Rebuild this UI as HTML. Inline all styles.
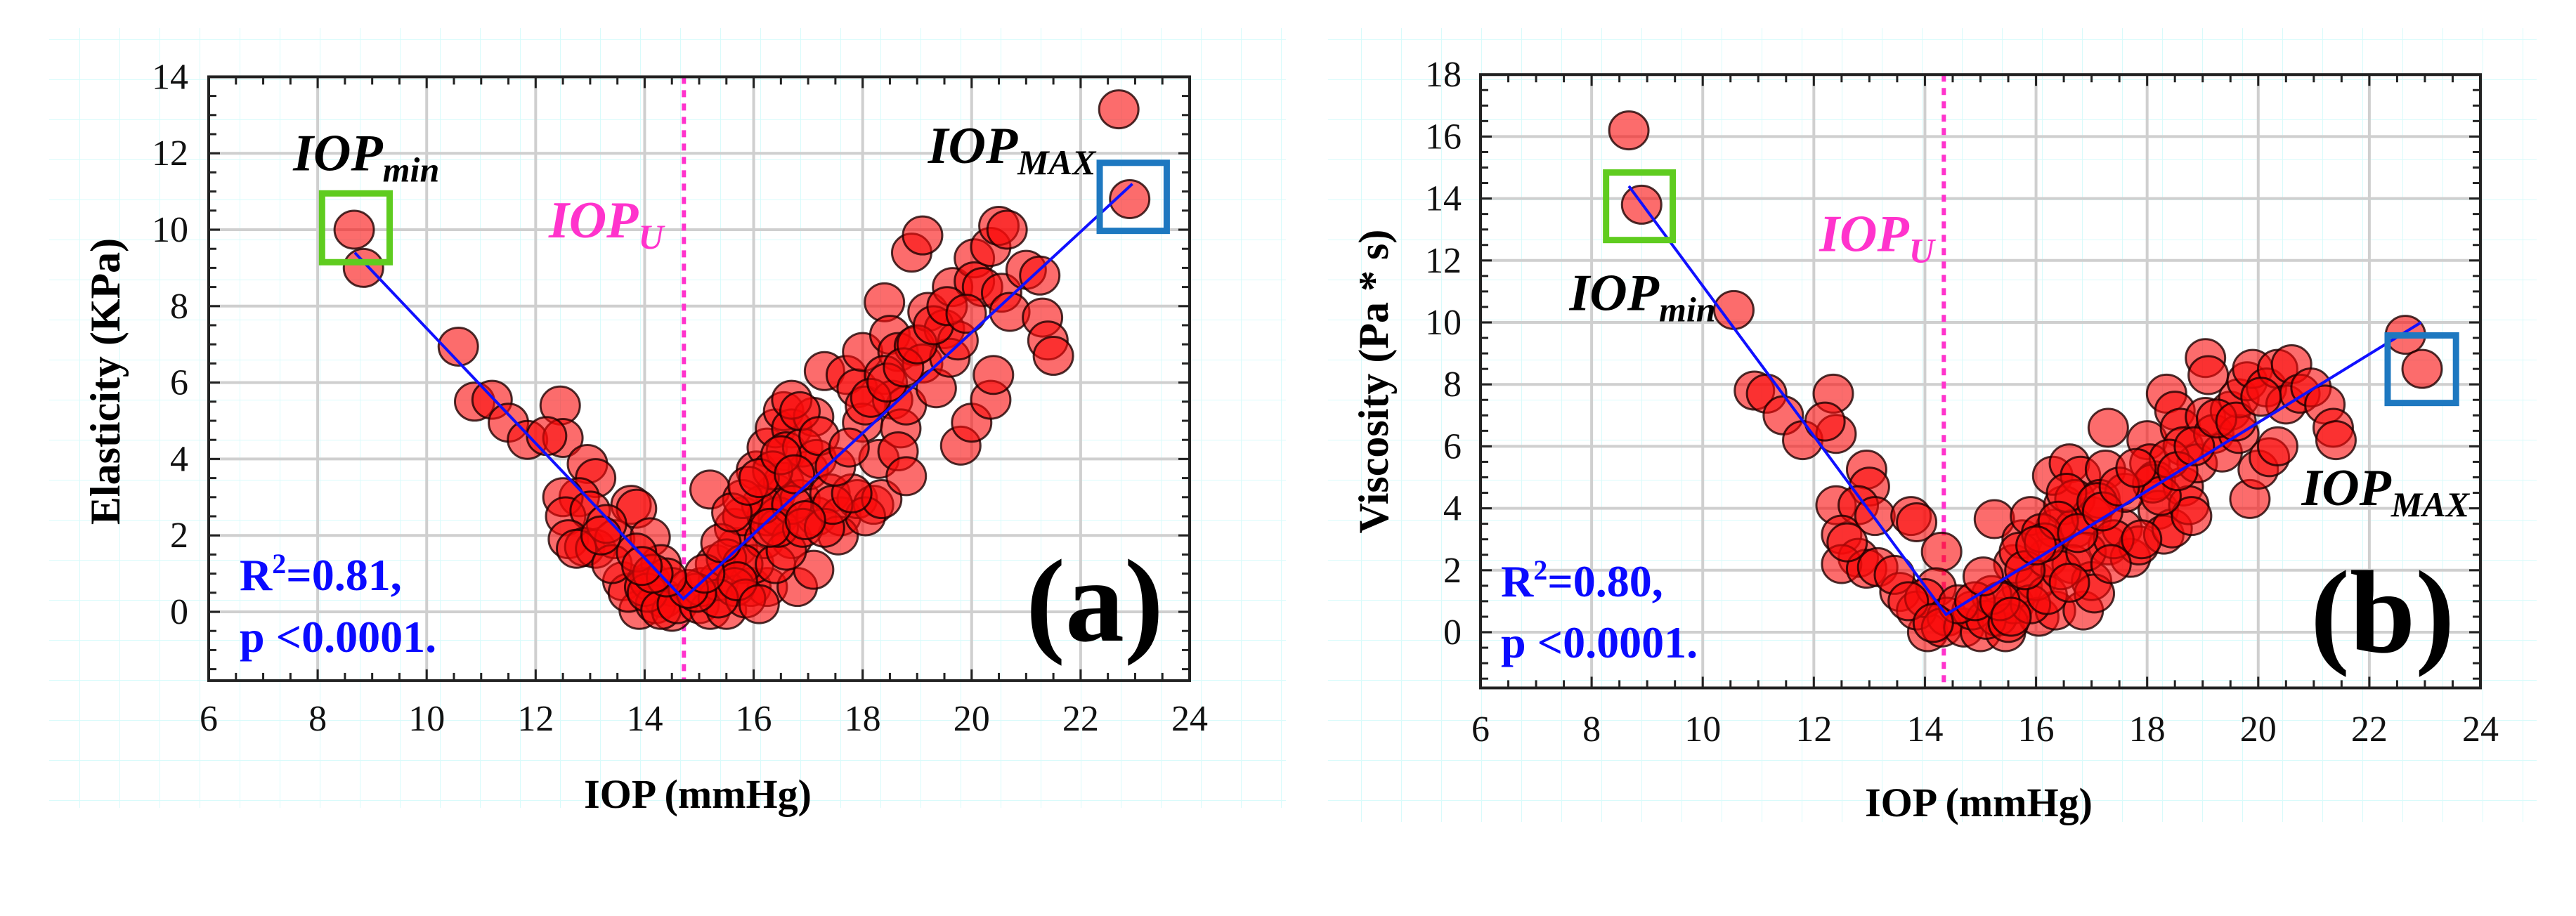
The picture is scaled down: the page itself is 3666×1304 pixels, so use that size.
<!DOCTYPE html>
<html><head><meta charset="utf-8">
<style>
html,body{margin:0;padding:0;background:#fff;}
svg{display:block;}
text{font-family:"Liberation Serif",serif;}
</style></head>
<body>
<svg id="fig" width="3666" height="1304" viewBox="0 0 3666 1304" xmlns="http://www.w3.org/2000/svg">
<defs>
<pattern id="bgGrid" width="57" height="57" patternUnits="userSpaceOnUse">
<path d="M57 0 V57 M0 57 H57" fill="none" stroke="#d8fbfb" stroke-width="2"/>
</pattern>
</defs>
<rect x="70" y="40" width="1760" height="1110" fill="url(#bgGrid)"/>
<rect x="1890" y="40" width="1720" height="1130" fill="url(#bgGrid)"/>
<g id="chartA"></g>
<g id="chartB"></g>
</svg>
<script>
const xTicks = [6,8,10,12,14,16,18,20,22,24];
const yTicksA = [0,2,4,6,8,10,12,14];
const yTicksB = [0,2,4,6,8,10,12,14,16,18];

const elastX = [
8.67,8.84,10.58,10.88,11.2,11.5,11.85,12.45,12.5,12.2,
12.95,13.1,12.8,12.5,12.55,13.0,12.6,12.9,13.1,12.75,
13.75,13.85,13.45,14.1,13.6,13.9,13.7,14.1,14.3,14.35,
14.5,14.2,14.0,14.5,13.3,13.4,13.85,14.05,14.3,14.6,
15.0,15.2,15.5,15.05,15.35,15.3,15.2,15.7,15.65,15.8,
15.95,16.25,16.0,16.2,16.25,16.4,16.05,16.25,16.4,16.55,
16.7,16.6,16.55,16.45,16.7,16.8,16.85,17.0,17.1,16.9,
17.15,17.15,17.1,17.3,17.4,17.6,17.55,17.7,17.9,18.0,
18.0,18.05,17.9,18.2,18.05,18.35,18.3,18.4,18.5,18.65,
18.4,18.55,18.7,18.65,18.8,18.8,18.9,19.1,18.95,19.1,
19.2,19.35,19.5,19.6,19.75,19.65,19.8,20.0,20.05,20.05,
20.2,20.35,20.5,20.65,20.35,20.4,20.55,20.7,21.0,21.25,
21.3,21.4,21.5,22.7,22.9,15.5,15.8,15.65,15.85,15.35,
14.95,15.7,16.1,16.4,16.6,16.45,16.15,15.8,16.35,16.7,
16.9,17.3,17.45,16.7,16.85,17.8,14.8,15.1,15.4,15.6,
15.9,16.1,16.3,16.5,16.75,16.95,17.2,17.5,17.75,18.15,
18.45,18.75,19.0,19.3,19.55,19.9,14.4,14.15,13.95,13.2];
const elastY = [
10.0,9.0,6.94,5.5,5.55,4.95,4.5,5.4,4.55,4.6,
3.87,3.5,3.0,3.0,2.5,2.65,1.9,1.7,1.65,1.65,
2.8,2.7,1.9,1.95,0.8,0.05,0.5,0.8,1.25,0.35,
0.65,0.2,0.65,0.0,2.3,1.25,1.55,0.5,0.05,0.2,
0.2,0.05,0.05,0.65,0.8,1.25,3.2,1.7,2.2,2.5,
0.65,0.65,1.25,1.9,2.5,3.1,3.7,4.3,4.8,5.25,
4.8,4.2,3.4,2.5,1.9,0.65,2.95,3.7,5.1,4.3,
4.0,2.5,1.1,6.3,3.1,2.5,2.0,6.2,5.85,6.8,
4.95,5.4,2.95,2.8,2.5,2.95,4.0,8.1,7.25,6.8,
6.2,5.55,4.8,4.2,3.55,5.4,9.4,9.85,6.95,6.5,
7.85,5.85,7.4,6.65,7.1,8.5,4.35,4.95,9.25,8.65,
8.5,9.55,10.1,10.0,5.55,6.2,8.35,7.85,8.95,8.8,
7.7,7.1,6.7,13.15,10.8,1.4,1.25,0.65,0.35,0.35,
0.5,0.8,0.2,1.25,1.6,2.2,2.8,2.95,3.7,2.8,
2.2,2.2,2.8,5.55,5.25,3.1,0.6,1.0,1.8,2.6,
3.3,3.5,2.2,4.1,3.6,2.4,4.6,3.8,4.3,5.6,
6.0,6.4,7.0,7.5,8.0,7.8,0.9,1.0,1.2,2.0];

const viscX = [
8.67,8.9,10.56,10.93,11.15,11.45,11.8,12.35,12.4,12.2,
12.95,13.0,12.4,12.8,12.5,13.1,12.8,12.5,12.95,13.15,
13.75,13.85,13.55,13.45,14.05,13.85,14.3,14.2,14.0,14.4,
14.3,14.7,15.0,15.45,14.85,15.3,15.25,15.6,15.75,15.6,
15.75,15.9,16.05,16.35,16.0,16.2,16.35,16.5,16.3,16.6,
16.8,16.7,16.7,16.65,16.85,17.0,17.0,17.25,17.15,17.05,
17.3,17.3,17.55,17.7,17.85,18.0,18.05,18.15,18.2,18.3,
18.45,18.35,18.5,18.6,18.65,18.65,18.75,18.8,18.9,19.05,
19.1,19.05,19.2,19.35,19.5,19.65,19.65,19.8,19.85,20.0,
19.9,20.15,20.2,20.35,20.35,20.6,20.5,20.75,20.95,21.2,
21.35,21.4,22.65,22.95,15.1,15.5,15.9,16.2,16.45,16.9,
17.4,17.6,18.1,18.4,15.2,15.7,16.1,16.55,17.1,14.6,
14.9,15.35,15.8,16.15,16.4,16.75,17.2,17.5,17.9,18.25,
18.55,18.85,19.25,19.6,20.05,15.05,15.55,16.0,16.6,17.35,
17.8,13.7,14.15,12.6];
const viscY = [
16.2,13.8,10.4,7.8,7.7,7.0,6.2,7.7,6.4,6.8,
5.25,4.7,4.1,4.1,3.15,3.75,2.4,2.2,2.05,2.1,
3.75,3.55,1.3,1.85,0.0,0.7,2.6,1.45,1.1,0.5,
0.15,0.15,0.0,0.0,0.7,0.5,3.65,0.9,1.45,2.2,
3.0,3.75,0.5,0.7,1.65,2.4,3.35,4.1,5.05,5.45,
5.05,4.3,3.35,2.2,0.7,1.65,3.75,5.25,4.3,1.25,
2.8,6.6,3.35,2.4,2.8,6.2,5.45,4.9,3.95,3.15,
3.35,7.7,7.15,6.6,6.0,4.7,4.1,3.75,5.45,8.85,
8.3,6.95,6.4,5.8,7.15,6.4,7.55,8.1,4.3,5.25,
8.5,7.9,5.65,6.0,8.5,8.65,7.35,7.7,7.9,7.35,
6.6,6.2,9.6,8.5,0.4,0.3,0.9,1.2,2.0,2.6,
3.0,4.5,4.8,5.6,1.2,2.6,3.2,4.5,4.2,0.9,
1.0,1.0,2.0,2.9,3.6,3.2,3.9,4.7,3.0,4.4,
5.2,6.0,6.9,6.8,7.6,1.8,0.5,2.8,1.6,2.2,
5.3,1.0,0.3,2.9];

const NS = "http://www.w3.org/2000/svg";
function mk(tag, attrs, parent){
  const e = document.createElementNS(NS, tag);
  for (const k in attrs) e.setAttribute(k, attrs[k]);
  parent.appendChild(e);
  return e;
}

function drawChart(g, cfg){
  const sx = v => cfg.x0 + (v - 6) / 18 * (cfg.x1 - cfg.x0);
  const sy = v => cfg.yZero - v * cfg.pxPerUnit;
  const top = sy(cfg.yMax), bottom = sy(-1.8);
  const left = cfg.x0, right = cfg.x1;
  xTicks.forEach(t => {
    const l = mk('line', {x1:sx(t), x2:sx(t), y1:top, y2:bottom, stroke:'#cfcfcf', 'stroke-width':4}, g);
    
    
  });
  cfg.yTicks.forEach(t => {
    const l = mk('line', {x1:left, x2:right, y1:sy(t), y2:sy(t), stroke:'#cfcfcf', 'stroke-width':4}, g);
    
    
  });
  for (let v = 6; v <= 24.001; v += 0.5) {
    const major = Math.abs(v - Math.round(v/2)*2) < 0.01;
    const len = major ? 16 : 11;
    mk('line', {x1:sx(v), x2:sx(v), y1:bottom, y2:bottom-len, stroke:'#222', 'stroke-width':3}, g);
    mk('line', {x1:sx(v), x2:sx(v), y1:top, y2:top+len, stroke:'#222', 'stroke-width':3}, g);
  }
  for (let v = -1.5; v <= cfg.yMax + 0.001; v += 0.5) {
    const major = Math.abs(v - Math.round(v/2)*2) < 0.01;
    const len = major ? 16 : 11;
    mk('line', {x1:left, x2:left+len, y1:sy(v), y2:sy(v), stroke:'#222', 'stroke-width':3}, g);
    mk('line', {x1:right, x2:right-len, y1:sy(v), y2:sy(v), stroke:'#222', 'stroke-width':3}, g);
  }
  xTicks.forEach(t => {
    const tx = mk('text', {x:sx(t), y:cfg.xLabelY, 'font-size':52, 'text-anchor':'middle', fill:'#111'}, g);
    tx.textContent = t;
    
    
  });
  cfg.yTicks.forEach(t => {
    const tx = mk('text', {x:cfg.yLabelX, y:sy(t)+17, 'font-size':52, 'text-anchor':'end', fill:'#111'}, g);
    tx.textContent = t;
    
    
  });
  const u = mk('line', {x1:sx(cfg.iopu), x2:sx(cfg.iopu), y1:top, y2:bottom, stroke:'#ff33cc', 'stroke-width':6, 'stroke-dasharray':'10 9'}, g);
  
  
  const n = Math.min(cfg.xs.length, cfg.ys.length);
  for (let i = 0; i < n; i++) {
    const xv = Number(cfg.xs[i]), yv = Number(cfg.ys[i]);
    if (!isFinite(xv) || !isFinite(yv)) continue;
    const c = mk('ellipse', {cx:sx(xv), cy:sy(yv), rx:28, ry:27, fill:'rgba(250,10,10,0.6)', stroke:'rgba(30,0,0,0.8)', 'stroke-width':3}, g);
    
    
  }
  const pl = mk('polyline', {points:cfg.fit.map(p => sx(p[0])+','+sy(p[1])).join(' '), fill:'none', stroke:'#1010ff', 'stroke-width':4}, g);
  
  
  [[cfg.greenBox,'#5fcc1f','iop-min-box'],[cfg.blueBox,'#1e78c0','iop-max-box']].forEach(b => {
    const r = b[0];
    const rc = mk('rect', {x:sx(r[0]), y:sy(r[3]), width:sx(r[1])-sx(r[0]), height:sy(r[2])-sy(r[3]), fill:'none', stroke:b[1], 'stroke-width':9}, g);
    
    
  });
  const fr = mk('rect', {x:left, y:top, width:right-left, height:bottom-top, fill:'none', stroke:'#222', 'stroke-width':4}, g);
  
  
  function lab(txt, sub, x, y, color, name){
    const t = mk('text', {x:x, y:y, 'font-size':74, 'font-weight':'bold', 'font-style':'italic', fill:color}, g);
    
    
    const a = mk('tspan', {}, t); a.textContent = txt;
    const b = mk('tspan', {'font-size':50, dy:16}, t); b.textContent = sub;
  }
  lab('IOP', 'min', sx(cfg.minLab[0]), sy(cfg.minLab[1]), '#000', 'iop-min-label');
  lab('IOP', 'MAX', sx(cfg.maxLab[0]), sy(cfg.maxLab[1]), '#000', 'iop-max-label');
  lab('IOP', 'U', sx(cfg.uLab[0]), sy(cfg.uLab[1]), '#ff33cc', 'iop-u-label');
  const r1 = mk('text', {x:cfg.rX, y:cfg.rY1, 'font-size':64, 'font-weight':'bold', fill:'#0a0aff'}, g);
  
  
  const ra = mk('tspan', {}, r1); ra.textContent = 'R';
  const rb = mk('tspan', {'font-size':40, dy:-24}, r1); rb.textContent = '2';
  const rcx = mk('tspan', {dy:24}, r1); rcx.textContent = '=' + cfg.r2 + ',';
  const p1 = mk('text', {x:cfg.rX, y:cfg.rY2, 'font-size':64, 'font-weight':'bold', fill:'#0a0aff'}, g);
  p1.textContent = 'p <0.0001.';
  
  
  const pn = mk('text', {x:cfg.panelX, y:cfg.panelY, 'font-size':168, 'font-weight':'bold', fill:'#000'}, g);
  pn.textContent = cfg.panel;
  
  
  const xt = mk('text', {x:cfg.xTitleX, y:cfg.xTitleY, 'font-size':58, 'font-weight':'bold', 'text-anchor':'middle', fill:'#000'}, g);
  xt.textContent = 'IOP (mmHg)';
  
  
  const yt = mk('text', {x:0, y:0, 'font-size':60, 'font-weight':'bold', 'text-anchor':'middle', fill:'#000', transform:'translate('+cfg.yTitleX+','+cfg.yTitleY+') rotate(-90)'}, g);
  yt.textContent = cfg.yTitle;
  
  
}

drawChart(document.getElementById('chartA'), {
  x0:297, x1:1693, yZero:871, pxPerUnit:54.4, yMax:14, yTicks:yTicksA,
  xs:elastX, ys:elastY, iopu:14.72,
  fit:[[8.68,9.4],[14.71,0.34],[22.95,11.2]],
  greenBox:[8.08,9.32,9.15,10.95], blueBox:[22.35,23.58,9.97,11.75],
  minLab:[7.55,11.55], maxLab:[19.2,11.75], uLab:[12.24,9.8],
  rX:341, rY1:840, rY2:928, r2:'0.81',
  panel:'(a)', panelX:1460, panelY:912,
  xLabelY:1040, yLabelX:268, xTitleX:993, xTitleY:1150,
  yTitle:'Elasticity (KPa)', yTitleX:170, yTitleY:543
});
drawChart(document.getElementById('chartB'), {
  x0:2107, x1:3530, yZero:900, pxPerUnit:44.1, yMax:18, yTicks:yTicksB,
  xs:viscX, ys:viscY, iopu:14.34,
  fit:[[8.67,14.4],[14.38,0.57],[22.93,10.0]],
  greenBox:[8.26,9.46,12.66,14.84], blueBox:[22.33,23.56,7.4,9.58],
  minLab:[7.6,10.4], maxLab:[20.78,4.1], uLab:[12.1,12.3],
  rX:2136, rY1:849, rY2:936, r2:'0.80',
  panel:'(b)', panelX:3288, panelY:928,
  xLabelY:1055, yLabelX:2080, xTitleX:2816, xTitleY:1162,
  yTitle:'Viscosity (Pa * s)', yTitleX:1975, yTitleY:543
});
</script>
</body></html>
